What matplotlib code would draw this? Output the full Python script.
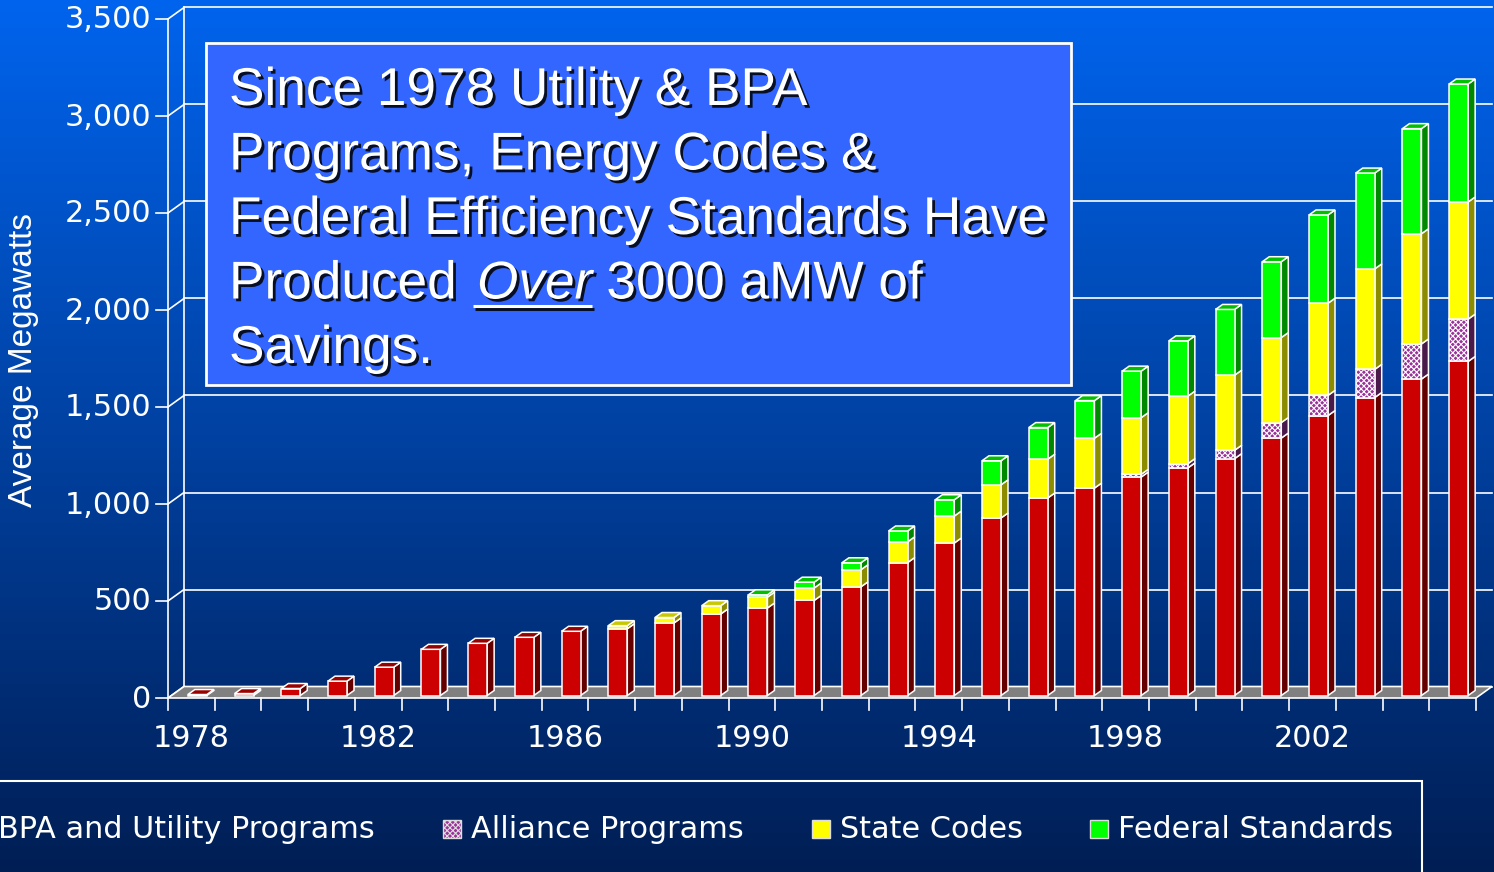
import numpy as np
import matplotlib
matplotlib.use("Agg")
import matplotlib.pyplot as plt
from matplotlib.patches import Polygon, Rectangle
import matplotlib.patheffects as pe

# ---------------- data ----------------
years = list(range(1978, 2006))
bpa_utility = [5, 10, 36, 74, 146, 238, 269, 300, 331, 344,
               374, 420, 451, 490, 560, 685, 786, 915, 1018, 1069,
               1126, 1173, 1221, 1327, 1443, 1536, 1631, 1722]
alliance = [0] * 20 + [14, 22, 43, 80, 104, 145, 181, 218]
state_codes = [0] * 9 + [16, 28, 43, 56, 64, 88, 107, 139, 171, 200,
                         257, 292, 348, 387, 438, 475, 518, 568, 604]
federal = [0] * 12 + [12, 30, 36, 56, 84, 124, 163, 194, 240, 285,
                      339, 391, 455, 494, 542, 608]
series_names = ["BPA and Utility Programs", "Alliance Programs",
                "State Codes", "Federal Standards"]
ytick_values = [0, 500, 1000, 1500, 2000, 2500, 3000, 3500]
xtick_years = [1978, 1982, 1986, 1990, 1994, 1998, 2002]
title_lines = ["Since 1978 Utility & BPA", "Programs, Energy Codes &",
               "Federal Efficiency Standards Have"]
y_label = "Average Megawatts"

# ---------------- styles ----------------
front_c = ["#CC0000", "#993399", "#FFFF00", "#00FF00"]
side_c = ["#640000", "#4A1A4A", "#8C8C00", "#008800"]
top_c = ["#990000", "#7A297A", "#C8C800", "#00C000"]
hatches = [None, "xxxxxx", None, None]
FS = 21.8

W, H = 1494, 872
fig = plt.figure(figsize=(W / 100, H / 100), dpi=100)

# background gradient
bg = fig.add_axes([0, 0, 1, 1], zorder=0)
bg.set_axis_off()
t = np.linspace(0, 1, 400)[:, None]
top_rgb = np.array([0, 100, 238]) / 255
bot_rgb = np.array([0, 30, 84]) / 255
img = top_rgb[None, None, :] * (1 - t[:, :, None]) + bot_rgb[None, None, :] * t[:, :, None]
bg.imshow(img, aspect="auto", extent=[0, 1, 0, 1])
bg.set_xlim(0, 1); bg.set_ylim(0, 1)

# main axes (front plane)
x_left, x_right = 168, 1476
y_zero, y_top = 698, 19
ax = fig.add_axes([x_left / W, (H - y_zero) / H, (x_right - x_left) / W, (y_zero - y_top) / H], zorder=1)
ax.set_axis_off()
ax.patch.set_visible(False)
n = len(years)
ax.set_xlim(-0.5, n - 0.5)
ax.set_ylim(0, 3500)
sx = (x_right - x_left) / n          # px per category
sy = (y_zero - y_top) / 3500.0        # px per MW

WX, WY = 16 / sx, 11.5 / sy           # wall depth
BX, BY = 7 / sx, 5 / sy               # bar depth
bw = 19 / sx                          # bar front width
bshift = 6 / sx                       # bar set back within the floor (x)
blift = 2.5 / sy                      # bar set back within the floor (y)
lw_edge = 1.1
xs = np.arange(n)

# back wall, side wall lines
for v in ytick_values:
    ax.plot([-0.5 + WX, n - 0.5 + WX], [v + WY, v + WY], color="white", lw=1.2, clip_on=False, zorder=1)
    ax.plot([-0.5, -0.5 + WX], [v, v + WY], color="white", lw=1.2, clip_on=False, zorder=1)
    ax.plot([-0.5 - 12 / sx, -0.5], [v, v], color="white", lw=1.2, clip_on=False, zorder=1)
    ax.text(-0.5 - 17 / sx, v - 1 / sy, f"{v:,}", ha="right", va="center", color="white",
            fontsize=FS, family="DejaVu Sans", clip_on=False)
ax.plot([-0.5 + WX, -0.5 + WX], [WY, 3500 + WY], color="white", lw=1.2, clip_on=False, zorder=1)
ax.plot([-0.5, -0.5], [0, 3500], color="white", lw=1.2, clip_on=False, zorder=1)

# floor
floor = Polygon([(-0.5, 0), (n - 0.5, 0), (n - 0.5 + WX, WY), (-0.5 + WX, WY)],
                closed=True, facecolor="#808080", edgecolor="white", lw=1.2, zorder=2, clip_on=False)
ax.add_patch(floor)

# x ticks
for k in range(n + 1):
    ax.plot([k - 0.5, k - 0.5], [0, -12 / sy], color="white", lw=1.2, clip_on=False, zorder=2)
for yr in xtick_years:
    ax.text(years.index(yr), -40 / sy, str(yr), ha="center", va="center", color="white",
            fontsize=FS, family="DejaVu Sans", clip_on=False)

# stacked 3D bars
plt.rcParams["hatch.linewidth"] = 0.8
plt.rcParams["hatch.color"] = "white"
all_series = [bpa_utility, alliance, state_codes, federal]
bottom = np.zeros(n)
top_series = np.zeros(n, dtype=int)
xb = xs + bshift
for s, vals in enumerate(all_series):
    vals = np.array(vals, dtype=float)
    idx = vals > 0
    ax.bar(xb[idx], vals[idx], bottom=bottom[idx] + blift, width=bw, color=front_c[s],
           edgecolor="white", lw=lw_edge, hatch=hatches[s], zorder=4, clip_on=False)
    for i in xs[idx]:
        b, h = bottom[i] + blift, vals[i]
        xr = xb[i] + bw / 2
        side = Polygon([(xr, b), (xr + BX, b + BY), (xr + BX, b + h + BY), (xr, b + h)],
                       closed=True, facecolor=side_c[s], edgecolor="white", lw=lw_edge,
                       zorder=3, clip_on=False)
        ax.add_patch(side)
    top_series[idx] = s
    bottom = bottom + vals
for i in xs:
    tp = bottom[i] + blift
    s = top_series[i]
    x0 = xb[i] - bw / 2
    topf = Polygon([(x0, tp), (x0 + bw, tp), (x0 + bw + BX, tp + BY), (x0 + BX, tp + BY)],
                   closed=True, facecolor=top_c[s], edgecolor="white", lw=lw_edge, zorder=5, clip_on=False)
    ax.add_patch(topf)

# overlay in pixel coordinates
ov = fig.add_axes([0, 0, 1, 1], zorder=5)
ov.set_axis_off()
ov.patch.set_visible(False)
ov.set_xlim(0, W)
ov.set_ylim(H, 0)

# y label
ov.text(24, 360, y_label, rotation=90, ha="center", va="center", color="white",
        fontsize=24, family="Liberation Sans")

# title box
ov.add_patch(Rectangle((206, 43), 1071 - 206, 385 - 43, facecolor="#3366FF",
                       edgecolor="white", lw=2))
shadow = [pe.withSimplePatchShadow(offset=(2, -2), shadow_rgbFace="black", alpha=0.85)]
fs_title = 38.3
base0, step = 105, 64.5
for k, line in enumerate(title_lines):
    ov.text(229, base0 + step * k, line, ha="left", va="baseline", color="white",
            fontsize=fs_title, family="Liberation Sans", path_effects=shadow)

fig.canvas.draw()
renderer = fig.canvas.get_renderer()
inv = ov.transData.inverted()
y4 = base0 + step * 3
t1 = ov.text(229, y4, "Produced", ha="left", va="baseline", color="white",
             fontsize=fs_title, family="Liberation Sans", path_effects=shadow)
ext = t1.get_window_extent(renderer)
x_end = inv.transform((ext.x1, ext.y0))[0]
x_over = x_end + 20
t2 = ov.text(x_over, y4, "Over", ha="left", va="baseline", color="white",
             fontsize=fs_title, family="Liberation Sans", style="italic", path_effects=shadow)
ext2 = t2.get_window_extent(renderer)
x_over_end = inv.transform((ext2.x1, ext2.y0))[0]
ov.plot([x_over - 4, x_over_end], [y4 + 8, y4 + 8], color="white", lw=2.2, solid_capstyle="butt",
        path_effects=[pe.SimpleLineShadow(offset=(1.5, -1.5), shadow_color="black", alpha=0.85), pe.Normal()])
ov.text(x_over_end + 14, y4, "3000 aMW of", ha="left", va="baseline", color="white",
        fontsize=fs_title, family="Liberation Sans", path_effects=shadow)
ov.text(229, base0 + step * 4, "Savings.", ha="left", va="baseline", color="white",
        fontsize=fs_title, family="Liberation Sans", path_effects=shadow)

# legend
ov.add_patch(Rectangle((-10, 781), 1422 + 10, 120, facecolor="none", edgecolor="white", lw=1.5, clip_on=True))
leg_y = 829
leg_text_x = [None, 471, 840, 1118]
for s in range(4):
    if s == 0:
        tt = ov.text(375, leg_y, series_names[0], ha="right", va="center", color="white",
                     fontsize=FS, family="DejaVu Sans")
        e = tt.get_window_extent(renderer)
        tx = inv.transform((e.x0, e.y0))[0]
    else:
        tx = leg_text_x[s]
        ov.text(tx, leg_y, series_names[s], ha="left", va="center", color="white",
                fontsize=FS, family="DejaVu Sans")
    ov.add_patch(Rectangle((tx - 28, leg_y - 9), 18, 18, facecolor=front_c[s],
                           edgecolor="#DDDDDD", lw=1.0, hatch=hatches[s]))

fig.savefig("out.png", dpi=100)
